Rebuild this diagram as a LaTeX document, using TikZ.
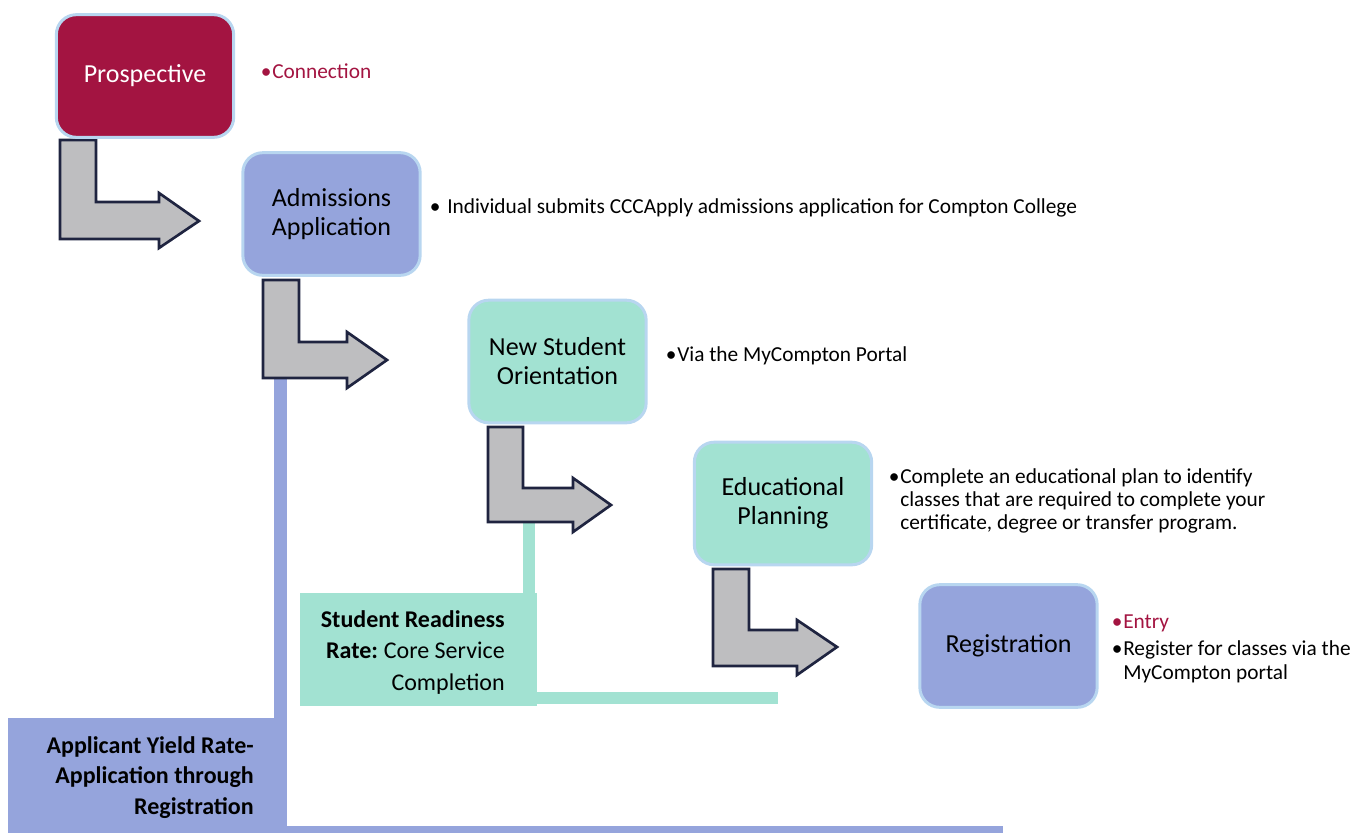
\documentclass[tikz,border=0pt]{standalone}
\usepackage{fontspec}
\setmainfont{Carlito}
\definecolor{crim}{RGB}{163,20,65}
\definecolor{peri}{RGB}{149,164,220}
\definecolor{mint}{RGB}{162,226,210}
\definecolor{edgeblue}{RGB}{184,214,240}
\definecolor{arrgray}{RGB}{190,190,192}
\definecolor{arrline}{RGB}{31,36,64}
\begin{document}
\begin{tikzpicture}[x=0.75pt,y=-0.75pt,
 stage/.style={draw=edgeblue, line width=2.25pt, rounded corners=15pt, minimum width=133pt, minimum height=92pt, align=center, font=\fontsize{19.5}{21.75}\selectfont, inner sep=0pt},
 bent/.style={fill=arrgray, draw=arrline, line width=2pt, line join=miter},
 desc/.style={font=\fontsize{16}{17.25}\selectfont, inner sep=0pt, anchor=base west},
 lab/.style={font=\fontsize{18}{23}\selectfont, inner sep=0pt, anchor=base east},
 bar/.style={fill=#1}]
\useasboundingbox (0,0) rectangle (1367,833);

% tracking bars and metric boxes
\fill[bar=peri] (274,378) rectangle (287,833);
\fill[bar=peri] (274,826) rectangle (1003,833);
\fill[bar=peri] (8,718) rectangle (287,833);
\fill[bar=mint] (523,520) rectangle (535,600);
\fill[bar=mint] (300,593) rectangle (537,706);
\fill[bar=mint] (535,692) rectangle (778,704);

\node[lab] (s1) at (505,627) {\bfseries Student Readiness};
\node[lab] (s2) at (505,658) {\textbf{Rate:}\hspace{-1pt} Core Service};
\node[lab] (s3) at (505,690) {Completion};
\node[lab] (a1) at (254,753) {\bfseries Applicant Yield Rate-};
\node[lab] (a2) at (254,783) {\bfseries Application through};
\node[lab] (a3) at (254,814) {\bfseries Registration};

% bent arrows
\draw[bent] (60,140) -- (96,140) -- (96,202) -- (159,202) -- (159,193) -- (199,221) -- (159,248) -- (159,239) -- (60,239) -- cycle;
\draw[bent] (263,280) -- (299,280) -- (299,342) -- (347,342) -- (347,332) -- (387,360) -- (347,388) -- (347,378) -- (263,378) -- cycle;
\draw[bent] (488,427) -- (523,427) -- (523,488) -- (573,488) -- (573,478) -- (611,505) -- (573,532) -- (573,522) -- (488,522) -- cycle;
\draw[bent] (713,569) -- (749,569) -- (749,630) -- (797,630) -- (797,620) -- (837,647) -- (797,675) -- (797,666) -- (713,666) -- cycle;

% stages
\node[stage, fill=crim, text=white] (pro) at (145,76) {Prospective};
\node[stage, fill=peri] (adm) at (331.5,214) {Admissions\\Application};
\node[stage, fill=mint] (nso) at (557.5,361.5) {New Student\\Orientation};
\node[stage, fill=mint] (edu) at (783,503.5) {Educational\\Planning};
\node[stage, fill=peri] (reg) at (1008.5,646) {Registration};

% descriptions
\node[desc, text=crim] (d1) at (272,78) {\llap{•\hspace{0.5pt}}Connection};
\node[desc] (d2) at (447,213) {\llap{•\hspace{5pt}}Individual submits CCCApply admissions application for Compton College};
\node[desc] (d3) at (677,361) {\llap{•\hspace{0.5pt}}Via the MyCompton Portal};
\node[desc] (d4a) at (900,483) {\llap{•\hspace{0.5pt}}Complete an educational plan to identify};
\node[desc] (d4b) at (900,506) {classes that are required to complete your};
\node[desc] (d4c) at (900,529) {certificate, degree or transfer program.};
\node[desc, text=crim] (d5a) at (1123,628) {\llap{•\hspace{0.5pt}}Entry};
\node[desc] (d5b) at (1123,655) {\llap{•\hspace{0.5pt}}Register for classes via the};
\node[desc] (d5c) at (1123,679) {MyCompton portal};
\end{tikzpicture}
\end{document}
